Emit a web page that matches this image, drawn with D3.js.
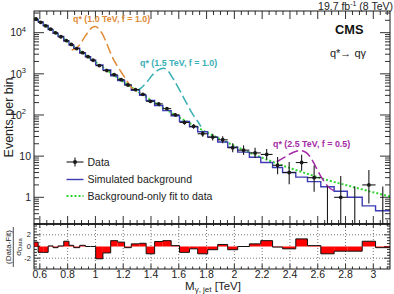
<!DOCTYPE html>
<html><head><meta charset="utf-8">
<script src="https://cdn.jsdelivr.net/npm/d3@7"></script>
<style>body{margin:0;background:#fff}svg{display:block;font-family:"Liberation Sans",Arial,sans-serif}</style>
</head><body><svg id="c" width="394" height="294"></svg>
<script>
// ---------- data ----------
const massEdges = [0.558,0.588,0.624,0.66,0.695,0.731,0.772,0.81,0.844,0.887,0.928,0.965,1.002,1.054,1.11,1.16,1.21,1.258,1.318,1.365,1.426,1.485,1.545,1.605,1.677,1.736,1.808,1.88,1.952,2.024,2.108,2.19,2.275,2.347,2.442,2.526,2.622,2.718,2.813,2.92,3.016,3.12];
const dataCounts = [21490,17900,14640,12140,9920,7970,6418,5172,4117,3262,2618,2140,1585,1200,955,721,535,415,318,215,186,143,101,66,53,35,29,25,16,14,12,11,6,4,7,3,0,1,0,2,0];
const simBackground = [21000,18300,14900,12000,9700,8100,6300,5000,4200,3200,2600,2150,1650,1250,900,690,540,400,300,225,170,128,96,70,52,39,29,22,16.5,12.5,9.4,7.0,5.3,4.0,3.1,2.4,1.8,1.4,1.0,0.62,0.47];
const pulls = [0.75,-1.0,-1.0,0.1,-0.2,0.1,0.9,0.2,-0.2,0.2,0,0,-2.1,-1.1,1.0,0.75,-0.2,0.45,0.55,-1.25,0.85,1.0,0.15,-1.0,-0.4,-1.25,-0.55,0.35,-0.55,0,0.45,1.0,-0.1,-0.4,1.3,0.15,-1.25,-0.8,-0.8,0.9,-0.2];
const fitMass   = [0.558,0.6,0.7,0.8,0.9,1.0,1.1,1.2,1.3,1.4,1.5,1.6,1.7,1.8,1.9,2.0,2.1,2.2,2.3,2.4,2.5,2.6,2.7,2.8,2.9,3.0,3.12];
const fitEvents = [22900,18600,10700,6030,3390,1950,1120,646,380,229,141,89.1,57.5,38.0,25.7,17.8,12.6,9.12,6.76,5.13,3.98,3.09,2.45,2.0,1.62,1.32,1.05];
const sig10Mass   = [0.829,0.86,0.89,0.92,0.95,0.975,0.997,1.02,1.045,1.07,1.1,1.13,1.165,1.2,1.24,1.28,1.30];
const sig10Events = [3800,4170,5250,7590,10700,13200,14100,12900,10000,6760,3800,2240,1410,933,575,398,380];
const sig15Mass   = [1.297,1.33,1.37,1.41,1.45,1.49,1.52,1.56,1.61,1.657,1.70,1.729,1.76];
const sig15Events = [389,457,631,933,1230,1365,1200,759,380,191,105,76,52];
const sig25Mass   = [2.305,2.35,2.388,2.43,2.472,2.51,2.544,2.58,2.616,2.65,2.688,2.736];
const sig25Events = [7.3,8.9,10.7,12.6,13.6,12.6,9.8,6.0,3.5,2.3,1.66,1.38];
const xTicks = [0.6,0.8,1,1.2,1.4,1.6,1.8,2,2.2,2.4,2.6,2.8,3];
const xTickLabels = ["0.6","0.8","1","1.2","1.4","1.6","1.8","2","2.2","2.4","2.6","2.8","3"];
const yTicks = [1,10,100,1000,10000];
const yTickBase = ["1","10","10","10","10"];
const yTickExp = ["","","2","3","4"];
const pullTicks = [-2,0,2];
const pullTickLabels = ["-2","0","2"];
const signalLabels = ["q* (1.0 TeV, f = 1.0)","q* (1.5 TeV, f = 1.0)","q* (2.5 TeV, f = 0.5)"];
const legendLabels = ["Data","Simulated background","Background-only fit to data"];

// ---------- layout ----------
const L=34,R=390,T=11,B=224,RB=269;
const svg = d3.select("#c");
svg.append("rect").attr("width",394).attr("height",294).attr("fill","#fff");
const x = d3.scaleLinear().domain([0.558,3.12]).range([L,R]);
const y = d3.scaleLog().domain([0.2245,33650]).range([B,T]);
const yr = d3.scaleLinear().domain([-3.85,3.85]).range([RB,B]);
const ink = "#1a1a1a";

const defs = svg.append("defs");
defs.append("clipPath").attr("id","cm").append("rect").attr("x",L).attr("y",T).attr("width",R-L).attr("height",B-T);
defs.append("clipPath").attr("id","cr").append("rect").attr("x",L).attr("y",B).attr("width",R-L).attr("height",RB-B);

// minor ticks
const xMinor = d3.range(0.6,3.12,0.05).map(v=>+v.toFixed(2)).filter(v=>!xTicks.some(t=>Math.abs(t-v)<1e-6));
const yMinor = [];
for (let d=0.1; d<=10000; d*=10) for (let k=2;k<=9;k++){const v=d*k; if(v>0.2245&&v<33650) yMinor.push(v);}
const rMinor = d3.range(-3.5,3.51,0.5).filter(v=>!pullTicks.includes(v));

function ticks(g, scale, vals, orient, pos, len){
  vals.forEach(v=>{
    const p = scale(v);
    if(orient==="x") g.append("line").attr("x1",p).attr("x2",p).attr("y1",pos).attr("y2",pos+len);
    else g.append("line").attr("y1",p).attr("y2",p).attr("x1",pos).attr("x2",pos+len);
  });
}
const tg = svg.append("g").attr("stroke",ink).attr("stroke-width",0.9);
ticks(tg,x,xTicks,"x",B,-8); ticks(tg,x,xMinor,"x",B,-4);
ticks(tg,x,xTicks,"x",T,8);  ticks(tg,x,xMinor,"x",T,4);
ticks(tg,y,yTicks,"y",L,10); ticks(tg,y,yMinor,"y",L,5);
ticks(tg,y,yTicks,"y",R,-10); ticks(tg,y,yMinor,"y",R,-5);
ticks(tg,x,xTicks,"x",RB,-5); ticks(tg,x,xMinor,"x",RB,-2.5);
ticks(tg,x,xTicks,"x",B,4);   ticks(tg,x,xMinor,"x",B,2);
ticks(tg,yr,pullTicks,"y",L,6); ticks(tg,yr,rMinor,"y",L,3);
ticks(tg,yr,pullTicks,"y",R,-6); ticks(tg,yr,rMinor,"y",R,-3);

// ratio grid
const gg = svg.append("g").attr("stroke","#555").attr("stroke-width",0.8).attr("stroke-dasharray","1,2");
xTicks.forEach(v=>gg.append("line").attr("x1",x(v)).attr("x2",x(v)).attr("y1",B).attr("y2",RB));
pullTicks.filter(v=>v!==0).forEach(v=>gg.append("line").attr("x1",L).attr("x2",R).attr("y1",yr(v)).attr("y2",yr(v)));

// ---------- ratio histogram ----------
const rg = svg.append("g").attr("clip-path","url(#cr)");
pulls.forEach((p,i)=>{
  const x0=x(massEdges[i]), x1=x(massEdges[i+1]);
  rg.append("rect").attr("x",x0).attr("width",x1-x0).attr("y",Math.min(yr(p),yr(0))).attr("height",Math.abs(yr(p)-yr(0))).attr("fill","#ff0000");
});
let rp = "";
pulls.forEach((p,i)=>{
  const x0=x(massEdges[i]), x1=x(massEdges[i+1]);
  rp += (i===0?"M":"L")+x0+","+yr(p)+"L"+x1+","+yr(p);
});
rg.append("path").attr("d",rp).attr("fill","none").attr("stroke","#111").attr("stroke-width",1);

// ---------- main panel ----------
const mg = svg.append("g").attr("clip-path","url(#cm)");
const lineGen = d3.line().x(d=>x(d[0])).y(d=>y(d[1])).curve(d3.curveMonotoneX);
mg.append("path").attr("d",lineGen(fitMass.map((m,i)=>[m,fitEvents[i]])))
  .attr("fill","none").attr("stroke","#2fd52f").attr("stroke-width",2).attr("stroke-dasharray","2,2");
let sp="";
simBackground.forEach((v,i)=>{ sp += (i===0?"M":"L")+x(massEdges[i])+","+y(v)+"L"+x(massEdges[i+1])+","+y(v); });
mg.append("path").attr("d",sp).attr("fill","none").attr("stroke","#3c3cb4").attr("stroke-width",1.4);
const sigs = [[sig10Mass,sig10Events,"#e08a35"],[sig15Mass,sig15Events,"#3aafb5"],[sig25Mass,sig25Events,"#a52aa5"]];
sigs.forEach(s=>{
  mg.append("path").attr("d",lineGen(s[0].map((m,i)=>[m,s[1][i]])))
    .attr("fill","none").attr("stroke",s[2]).attr("stroke-width",1.5).attr("stroke-dasharray","10,4");
});
const garwood = [[0,1.841],[0.173,3.300],[0.708,4.638],[1.367,5.918],[2.086,7.163],[2.840,8.382],[3.620,9.584],[4.419,10.77],[5.232,11.95],[6.057,13.11],[6.891,14.27]];
const dg = mg.append("g").attr("stroke",ink).attr("stroke-width",1.1);
dataCounts.forEach((n,i)=>{
  const xl=x(massEdges[i]), xr=x(massEdges[i+1]), xc=(xl+xr)/2;
  let lo,hi;
  if(n<=10){lo=garwood[n][0];hi=garwood[n][1];} else {lo=n+0.5-Math.sqrt(n+0.25);hi=n+0.5+Math.sqrt(n+0.25);}
  const yl = lo>0 ? y(lo) : B+2;
  dg.append("line").attr("x1",xc).attr("x2",xc).attr("y1",yl).attr("y2",y(hi));
  if(n>0){
    dg.append("line").attr("x1",xl).attr("x2",xr).attr("y1",y(n)).attr("y2",y(n));
    dg.append("circle").attr("cx",xc).attr("cy",y(n)).attr("r",1.9).attr("fill",ink).attr("stroke","none");
  }
});

svg.append("rect").attr("x",L).attr("y",T).attr("width",R-L).attr("height",B-T).attr("fill","none").attr("stroke",ink).attr("stroke-width",1);
svg.append("rect").attr("x",L).attr("y",B).attr("width",R-L).attr("height",RB-B).attr("fill","none").attr("stroke",ink).attr("stroke-width",1);
svg.append("line").attr("x1",L).attr("x2",R).attr("y1",B).attr("y2",B).attr("stroke",ink).attr("stroke-width",1.6);

// ---------- labels ----------
const txt = svg.append("g").attr("fill","#222");
xTicks.forEach((v,i)=>txt.append("text").attr("x",x(v)).attr("y",277.5).attr("text-anchor","middle").attr("font-size",10.5).text(xTickLabels[i]));
yTicks.forEach((v,i)=>{
  const t = txt.append("text").attr("x",yTickExp[i]?26:31).attr("y",y(v)+3.8).attr("text-anchor","end").attr("font-size",10.5);
  t.append("tspan").text(yTickBase[i]);
  if(yTickExp[i]){ t.append("tspan").attr("font-size",7.5).attr("dy",-4.5).text(yTickExp[i]); }
});
pullTicks.forEach((v,i)=>txt.append("text").attr("x",31).attr("y",yr(v)+2.6).attr("text-anchor","end").attr("font-size",7.5).text(pullTickLabels[i]));

txt.append("text").attr("transform","translate(13,117.5) rotate(-90)").attr("text-anchor","middle").attr("font-size",12.5).text("Events per bin");
const xt = txt.append("text").attr("x",213).attr("y",289.5).attr("text-anchor","middle").attr("font-size",11.5);
xt.append("tspan").text("M");
xt.append("tspan").attr("font-size",8).attr("dy",2).text("γ, jet");
xt.append("tspan").attr("dy",-2).text(" [TeV]");
const rt = txt.append("g").attr("transform","translate(0,247) rotate(-90)");
rt.append("text").attr("x",0).attr("y",10.5).attr("text-anchor","middle").attr("font-size",8).text("(Data-Fit)");
rt.append("line").attr("x1",-20).attr("x2",20).attr("y1",13.3).attr("y2",13.3).attr("stroke","#222").attr("stroke-width",0.8);
const st = rt.append("text").attr("x",0).attr("y",20.5).attr("text-anchor","middle").attr("font-size",8);
st.append("tspan").text("σ");
st.append("tspan").attr("font-size",6).attr("dy",1.5).text("Data");

const hd = txt.append("text").attr("x",393).attr("y",9.6).attr("text-anchor","end").attr("font-size",10.5);
hd.append("tspan").text("19.7 fb");
hd.append("tspan").attr("font-size",7).attr("dy",-3.4).text("-1");
hd.append("tspan").attr("dy",3.4).text(" (8 TeV)");
txt.append("text").attr("x",363.5).attr("y",33.5).attr("text-anchor","end").attr("font-size",12.8).attr("font-weight","bold").attr("fill","#111").text("CMS");
txt.append("text").attr("x",366).attr("y",57).attr("text-anchor","end").attr("font-size",11).text("q*→ qγ");

const sl = [[73,22,"#e08a35"],[140,65.5,"#3aafb5"],[273,146.5,"#a52aa5"]];
signalLabels.forEach((s,i)=>txt.append("text").attr("x",sl[i][0]).attr("y",sl[i][1]).attr("font-size",8.9).attr("font-weight","bold").attr("fill",sl[i][2]).text(s));

const lg = svg.append("g");
const ly = [162,179.5,196];
lg.append("line").attr("x1",66.5).attr("x2",83.5).attr("y1",ly[0]).attr("y2",ly[0]).attr("stroke",ink).attr("stroke-width",1.1);
lg.append("line").attr("x1",75).attr("x2",75).attr("y1",ly[0]-4.5).attr("y2",ly[0]+4.5).attr("stroke",ink).attr("stroke-width",1.1);
lg.append("circle").attr("cx",75).attr("cy",ly[0]).attr("r",2).attr("fill",ink);
lg.append("line").attr("x1",66.5).attr("x2",83.5).attr("y1",ly[1]).attr("y2",ly[1]).attr("stroke","#3c3cb4").attr("stroke-width",1.4);
lg.append("line").attr("x1",66.5).attr("x2",83.5).attr("y1",ly[2]).attr("y2",ly[2]).attr("stroke","#2fd52f").attr("stroke-width",2).attr("stroke-dasharray","2,2");
legendLabels.forEach((s,i)=>lg.append("text").attr("x",87.5).attr("y",ly[i]+3.8).attr("font-size",10.5).attr("fill","#222").text(s));
</script></body></html>
